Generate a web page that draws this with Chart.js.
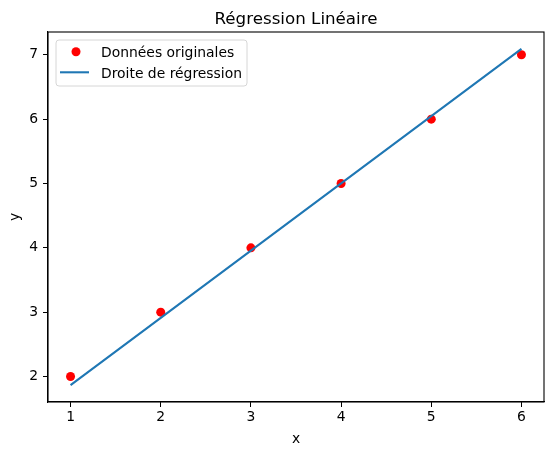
<!DOCTYPE html>
<html>
<head>
<meta charset="utf-8">
<script src="https://cdn.jsdelivr.net/npm/chart.js@4"></script>
<style>
  html, body { margin: 0; padding: 0; background: #ffffff; }
  #wrap { width: 554px; height: 455px; }
</style>
</head>
<body>
<div id="wrap"><canvas id="c" width="554" height="455"></canvas></div>
<script>
// ---- data ----
const xValues = [1, 2, 3, 4, 5, 6];
const yValues = [2, 3, 4, 5, 6, 7];
const fitValues = [1.865, 2.911, 3.956, 5.002, 6.047, 7.093];
const xTicks = [1, 2, 3, 4, 5, 6];
const yTicks = [2, 3, 4, 5, 6, 7];
const seriesNames = ['Données originales', 'Droite de régression'];
const titleText = 'Régression Linéaire';
const xLabel = 'x';
const yLabel = 'y';

const FONT = "'DejaVu Sans', sans-serif";
const RED = '#ff0000';
const BLUE = '#1f77b4';

const pointsData = xValues.map((x, i) => ({ x: x, y: yValues[i] }));
const lineData = xValues.map((x, i) => ({ x: x, y: fitValues[i] }));

const framePlugin = {
  id: 'frame',
  afterDraw(chart) {
    const { ctx, chartArea: a } = chart;
    ctx.save();
    // axes frame
    ctx.strokeStyle = '#000000';
    ctx.lineWidth = 1.1;
    ctx.strokeRect(a.left, a.top, a.right - a.left, a.bottom - a.top);
    // title
    ctx.fillStyle = '#000000';
    ctx.font = '16.7px ' + FONT;
    ctx.textAlign = 'center';
    ctx.textBaseline = 'alphabetic';
    ctx.fillText(titleText, (a.left + a.right) / 2, 24.3);
    // legend box
    const bx = a.left + 8, by = a.top + 8, bw = 191, bh = 46;
    const r = 3;
    ctx.beginPath();
    ctx.moveTo(bx + r, by);
    ctx.lineTo(bx + bw - r, by);
    ctx.arcTo(bx + bw, by, bx + bw, by + r, r);
    ctx.lineTo(bx + bw, by + bh - r);
    ctx.arcTo(bx + bw, by + bh, bx + bw - r, by + bh, r);
    ctx.lineTo(bx + r, by + bh);
    ctx.arcTo(bx, by + bh, bx, by + bh - r, r);
    ctx.lineTo(bx, by + r);
    ctx.arcTo(bx, by, bx + r, by, r);
    ctx.closePath();
    ctx.fillStyle = 'rgba(255,255,255,0.8)';
    ctx.fill();
    ctx.strokeStyle = '#d6d6d6';
    ctx.lineWidth = 1;
    ctx.stroke();
    // legend entries
    ctx.beginPath();
    ctx.arc(bx + 20, by + 11.7, 4.5, 0, Math.PI * 2);
    ctx.fillStyle = RED;
    ctx.fill();
    ctx.beginPath();
    ctx.moveTo(bx + 4, by + 32.3);
    ctx.lineTo(bx + 33, by + 32.3);
    ctx.strokeStyle = BLUE;
    ctx.lineWidth = 2.08;
    ctx.stroke();
    ctx.fillStyle = '#000000';
    ctx.font = '13.9px ' + FONT;
    ctx.textAlign = 'left';
    ctx.textBaseline = 'alphabetic';
    ctx.fillText(seriesNames[0], bx + 45, by + 17);
    ctx.fillText(seriesNames[1], bx + 45, by + 37.7);
    ctx.restore();
  }
};

new Chart(document.getElementById('c'), {
  type: 'scatter',
  data: {
    datasets: [
      {
        label: seriesNames[1],
        data: lineData,
        showLine: true,
        borderColor: BLUE,
        borderWidth: 2.08,
        pointRadius: 0,
        pointHoverRadius: 0,
        fill: false,
        tension: 0,
        order: 0
      },
      {
        label: seriesNames[0],
        data: pointsData,
        showLine: false,
        backgroundColor: RED,
        borderColor: RED,
        borderWidth: 0,
        pointRadius: 4.5,
        pointHoverRadius: 4.5,
        order: 1
      }
    ]
  },
  options: {
    responsive: false,
    animation: false,
    events: [],
    layout: { padding: { left: 0, right: 10, top: 32, bottom: 0 } },
    plugins: {
      legend: { display: false },
      title: { display: false },
      tooltip: { enabled: false }
    },
    scales: {
      x: {
        type: 'linear',
        position: 'bottom',
        min: 0.75,
        max: 6.25,
        afterBuildTicks: s => { s.ticks = xTicks.map(v => ({ value: v })); },
        afterFit: s => { s.height = 53; },
        grid: { display: true, drawOnChartArea: false, drawTicks: true, tickLength: 5, color: '#000000', lineWidth: 1 },
        border: { display: true, color: '#000000', width: 1.1 },
        ticks: { color: '#000000', font: { family: FONT, size: 13.9 }, padding: 2.5, maxRotation: 0, autoSkip: false },
        title: { display: true, text: xLabel, color: '#000000', font: { family: FONT, size: 13.9 }, padding: { top: 0, bottom: 7.4 } }
      },
      y: {
        type: 'linear',
        position: 'left',
        min: 1.604,
        max: 7.354,
        afterBuildTicks: s => { s.ticks = yTicks.map(v => ({ value: v })); },
        afterFit: s => { s.width = 48; },
        grid: { display: true, drawOnChartArea: false, drawTicks: true, tickLength: 5, color: '#000000', lineWidth: 1 },
        border: { display: true, color: '#000000', width: 1.1 },
        ticks: { color: '#000000', font: { family: FONT, size: 13.9 }, padding: 5, autoSkip: false },
        title: { display: true, text: yLabel, color: '#000000', font: { family: FONT, size: 13.9 }, padding: { top: 7.4, bottom: 0 } }
      }
    }
  },
  plugins: [framePlugin]
});
</script>
</body>
</html>
